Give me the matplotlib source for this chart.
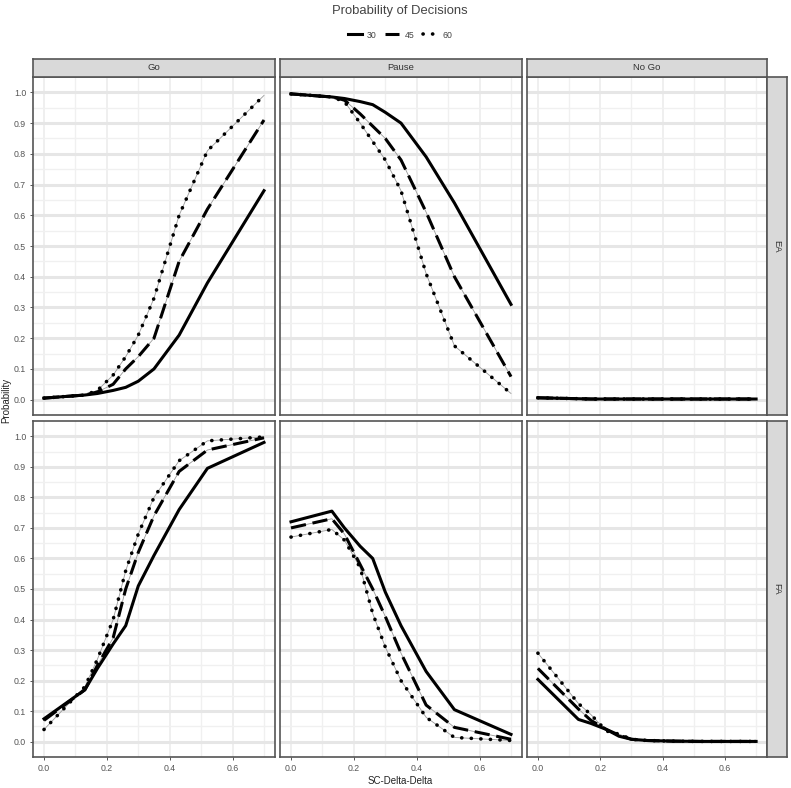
import numpy as np
import matplotlib
matplotlib.use("Agg")
import matplotlib.pyplot as plt
from matplotlib.lines import Line2D

plt.rcParams['font.family'] = ['Liberation Sans', 'DejaVu Sans']

# SC-Delta-Delta values
x = [0, 0.13, 0.17, 0.22, 0.26, 0.30, 0.35, 0.43, 0.52, 0.70]
decisions = ["Go", "Pause", "No Go"]
groups = ["EA", "FA"]
levels = ["30", "45", "60"]

go_ea_30 = [0.005, 0.015, 0.02, 0.03, 0.04, 0.06, 0.10, 0.21, 0.38, 0.68]
go_ea_45 = [0.005, 0.015, 0.025, 0.05, 0.10, 0.14, 0.20, 0.45, 0.62, 0.91]
go_ea_60 = [0.005, 0.015, 0.03, 0.08, 0.14, 0.21, 0.33, 0.60, 0.81, 0.99]

pause_ea_30 = [0.995, 0.985, 0.98, 0.97, 0.96, 0.935, 0.90, 0.79, 0.64, 0.31]
pause_ea_45 = [0.995, 0.985, 0.975, 0.93, 0.89, 0.85, 0.78, 0.61, 0.40, 0.075]
pause_ea_60 = [0.995, 0.985, 0.97, 0.90, 0.84, 0.78, 0.68, 0.41, 0.175, 0.02]

nogo_ea_30 = [0.006, 0.003, 0.002, 0.002, 0.002, 0.002, 0.002, 0.002, 0.002, 0.002]
nogo_ea_45 = [0.006, 0.003, 0.002, 0.002, 0.002, 0.002, 0.002, 0.002, 0.002, 0.002]
nogo_ea_60 = [0.006, 0.003, 0.002, 0.002, 0.002, 0.002, 0.002, 0.002, 0.002, 0.002]

go_fa_30 = [0.075, 0.17, 0.24, 0.32, 0.38, 0.51, 0.61, 0.76, 0.895, 0.98]
go_fa_45 = [0.07, 0.17, 0.25, 0.34, 0.50, 0.62, 0.74, 0.885, 0.955, 0.995]
go_fa_60 = [0.04, 0.18, 0.27, 0.40, 0.56, 0.68, 0.80, 0.92, 0.985, 0.998]

pause_fa_30 = [0.72, 0.755, 0.70, 0.64, 0.60, 0.49, 0.38, 0.23, 0.105, 0.024]
pause_fa_45 = [0.70, 0.73, 0.68, 0.58, 0.50, 0.41, 0.29, 0.12, 0.047, 0.008]
pause_fa_60 = [0.67, 0.695, 0.66, 0.57, 0.42, 0.31, 0.20, 0.08, 0.014, 0.004]

nogo_fa_30 = [0.204, 0.073, 0.06, 0.04, 0.018, 0.008, 0.004, 0.002, 0.001, 0.001]
nogo_fa_45 = [0.24, 0.107, 0.07, 0.04, 0.022, 0.008, 0.004, 0.002, 0.001, 0.001]
nogo_fa_60 = [0.29, 0.125, 0.089, 0.035, 0.025, 0.008, 0.004, 0.002, 0.001, 0.001]

data = {
    ("EA", "Go"): [go_ea_30, go_ea_45, go_ea_60],
    ("EA", "Pause"): [pause_ea_30, pause_ea_45, pause_ea_60],
    ("EA", "No Go"): [nogo_ea_30, nogo_ea_45, nogo_ea_60],
    ("FA", "Go"): [go_fa_30, go_fa_45, go_fa_60],
    ("FA", "Pause"): [pause_fa_30, pause_fa_45, pause_fa_60],
    ("FA", "No Go"): [nogo_fa_30, nogo_fa_45, nogo_fa_60],
}

W, H = 791, 788
fig = plt.figure(figsize=(W / 100, H / 100), dpi=100)

def px_axes(x0, y0, x1, y1):
    # pixel box (from top-left) -> figure axes
    return fig.add_axes([x0 / W, 1 - y1 / H, (x1 - x0) / W, (y1 - y0) / H])

col_x = [(33, 275), (280, 522), (527, 767)]
row_y = [(77, 415), (421, 757)]
border = "#555555"
styles = [
    dict(ls="-", lw=2.2, dash=None),
    dict(ls=(0, (5, 2.2)), lw=2.2, dash="dash"),
    dict(ls=(0, (0.05, 2.6)), lw=2.6, dash="dot"),
]

def draw_line(ax, xs, ys, st):
    if st["dash"] is not None:
        ax.plot(xs, ys, color="#9a9a9a", lw=0.6, zorder=2)
    ln, = ax.plot(xs, ys, color="black", lw=st["lw"], linestyle=st["ls"],
                  dash_capstyle="round" if st["dash"] == "dot" else "butt",
                  solid_joinstyle="round", zorder=3)
    return ln

for r, g in enumerate(groups):
    for c, d in enumerate(decisions):
        ax = px_axes(col_x[c][0], row_y[r][0], col_x[c][1], row_y[r][1])
        for k, series in enumerate(data[(g, d)]):
            draw_line(ax, x, series, styles[k])
        ax.set_xlim(-0.035, 0.735)
        ax.set_ylim(-0.05, 1.05)
        ax.set_xticks([0, 0.2, 0.4, 0.6])
        ax.set_xticks([0.1, 0.3, 0.5, 0.7], minor=True)
        ax.set_yticks(np.arange(0, 1.01, 0.1))
        ax.set_yticks(np.arange(0.05, 1.0, 0.1), minor=True)
        ax.grid(which="major", color="#e6e6e6", lw=2.2)
        ax.grid(which="minor", color="#f0f0f0", lw=1.0)
        ax.grid(which="major", axis="x", color="#ececec", lw=1.2)
        ax.set_axisbelow(True)
        for sp in ax.spines.values():
            sp.set_color(border)
            sp.set_linewidth(1.2)
        ax.tick_params(which="minor", length=0)
        ax.tick_params(which="major", length=2.5, width=0.7, color="#555555",
                       labelsize=6.3, labelcolor="#555555", pad=2.5)
        if c == 0:
            ax.set_yticklabels([f"{v:.1f}" for v in np.arange(0, 1.01, 0.1)])
        else:
            ax.tick_params(axis="y", which="major", length=0, labelleft=False)
        if r == 1:
            ax.set_xticklabels(["0.0", "0.2", "0.4", "0.6"])
        else:
            ax.tick_params(axis="x", which="major", length=0, labelbottom=False)

# top strips
for c, d in enumerate(decisions):
    sx = px_axes(col_x[c][0], 59, col_x[c][1], 77)
    sx.set_facecolor("#d9d9d9")
    sx.set_xticks([])
    sx.set_yticks([])
    for sp in sx.spines.values():
        sp.set_color(border)
        sp.set_linewidth(1.2)
    sx.text(0.5, 0.5, d, ha="center", va="center", fontsize=6.8, color="#333333",
            transform=sx.transAxes)

# right strips
for r, g in enumerate(groups):
    sx = px_axes(767, row_y[r][0], 787, row_y[r][1])
    sx.set_facecolor("#d9d9d9")
    sx.set_xticks([])
    sx.set_yticks([])
    for sp in sx.spines.values():
        sp.set_color(border)
        sp.set_linewidth(1.2)
    sx.text(0.5, 0.5, g, ha="center", va="center", fontsize=6.8, color="#333333",
            rotation=-90, transform=sx.transAxes)

fig.text(400 / W, 1 - 11 / H, "Probability of Decisions", ha="center", va="center",
         fontsize=9.4, color="#444444")
fig.text(400 / W, 1 - 781 / H, "SC-Delta-Delta", ha="center", va="center",
         fontsize=7, color="#222222")
fig.text(6 / W, 1 - 400 / H, "Probability", ha="center", va="center",
         fontsize=7, color="#222222", rotation=90)

handles = [Line2D([], [], color="black", lw=st["lw"], linestyle=st["ls"],
                  dash_capstyle="round" if st["dash"] == "dot" else "butt")
           for st in styles]
fig.legend(handles, levels, loc="center", bbox_to_anchor=(400 / W, 1 - 35 / H),
           ncol=3, frameon=False, fontsize=6.3, handlelength=1.6, handletextpad=0.6,
           columnspacing=1.0, labelcolor="#444444")

fig.savefig("out.png", dpi=100)
